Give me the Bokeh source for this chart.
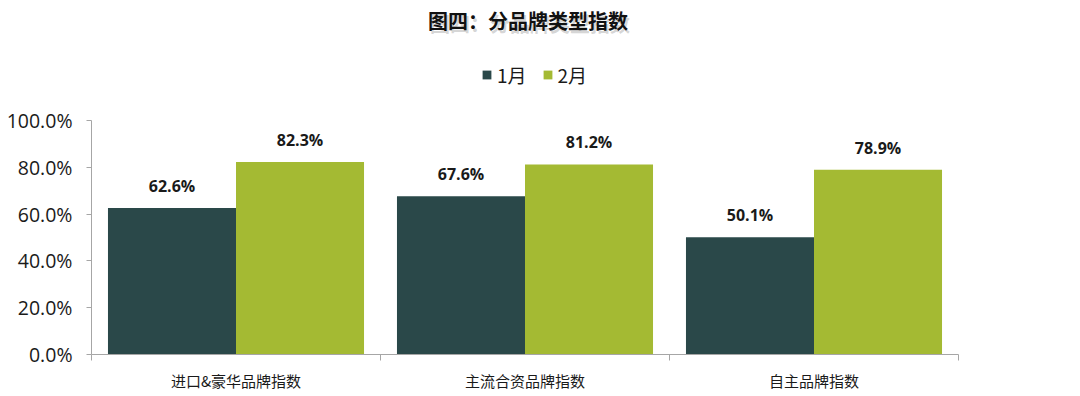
import numpy as np
from bokeh.plotting import figure
from bokeh.models import (Range1d, NumeralTickFormatter, FixedTicker, Legend, LegendItem,
                          ColumnDataSource, Label)
from bokeh.embed import file_html
from bokeh.resources import INLINE

title_text = "图四：分品牌类型指数"
categories = ["进口&豪华品牌指数", "主流合资品牌指数", "自主品牌指数"]
series_names = ["1月", "2月"]
jan = [0.626, 0.676, 0.501]
feb = [0.823, 0.812, 0.789]
y_ticks = [0.0, 0.2, 0.4, 0.6, 0.8, 1.0]

DARK = "#2A4849"
GREEN = "#A4BA33"
AXIS = "#A6A6A6"
CJK = "Noto Sans CJK SC"

n = len(categories)
centers = np.arange(n) + 0.5
w = 0.443
PX = 234.0            # pixels per 100 %
Y_TOP = 1 + 120 / PX  # frame extends up to the canvas top (title + legend live inside)

src = ColumnDataSource(dict(cat=categories, jan=jan, feb=feb,
                            x1=centers - w / 2, x2=centers + w / 2,
                            jan_lbl=[f"{v*100:.1f}%" for v in jan],
                            feb_lbl=[f"{v*100:.1f}%" for v in feb]))

p = figure(x_range=Range1d(0, n), y_range=Range1d(0, Y_TOP),
           width=1080, height=396,
           min_border_left=91, min_border_right=122, min_border_top=0, min_border_bottom=42,
           output_backend="svg", toolbar_location=None)
p.outline_line_color = None
p.grid.visible = False
p.background_fill_color = "white"
p.border_fill_color = "white"

r1 = p.vbar(x="x1", top="jan", width=w, source=src, fill_color=DARK, line_color=None)
r2 = p.vbar(x="x2", top="feb", width=w, source=src, fill_color=GREEN, line_color=None)

for col, lbl, xc in (("jan", "jan_lbl", "x1"), ("feb", "feb_lbl", "x2")):
    p.text(x=xc, y=col, text=lbl, source=src,
           text_align="center", text_baseline="bottom", y_offset=-11,
           text_font={"value": "Open Sans"}, text_font_size="16px", text_font_style="bold",
           text_color="#1a1a1a")

# y axis
ya = p.yaxis[0]
ya.ticker = FixedTicker(ticks=y_ticks)
ya.bounds = (0, 1)
ya.formatter = NumeralTickFormatter(format="0.0%")
ya.axis_line_color = AXIS
ya.major_tick_line_color = AXIS
ya.major_tick_out = 5
ya.major_tick_in = 0
ya.minor_tick_line_color = None
ya.major_label_standoff = 14
ya.major_label_text_font = "Open Sans"
ya.major_label_text_font_size = "19.5px"
ya.major_label_text_color = "#1a1a1a"

# x axis: labels at category centres, ticks at boundaries
xa = p.xaxis[0]
xa.ticker = FixedTicker(ticks=list(centers), minor_ticks=list(range(n + 1)))
xa.major_label_overrides = {float(c): name for c, name in zip(centers, categories)}
xa.axis_line_color = AXIS
xa.major_tick_line_color = None
xa.minor_tick_line_color = AXIS
xa.minor_tick_out = 6
xa.minor_tick_in = 0
xa.major_label_standoff = 9
xa.major_label_text_font = CJK
xa.major_label_text_font_size = "15px"
xa.major_label_text_color = "#1a1a1a"

# title with soft shadow
for dx, dy, color, alpha in ((2, -3, "#888888", 0.35), (0, 0, "#111111", 1.0)):
    p.add_layout(Label(x=n / 2, y=1 + 100 / PX, text=title_text, text_align="center",
                       text_baseline="middle", x_offset=dx + 3, y_offset=dy,
                       text_font=CJK, text_font_size="20px", text_font_style="bold",
                       text_color=color, text_alpha=alpha))

legend = Legend(items=[LegendItem(label=series_names[0], renderers=[r1]),
                       LegendItem(label=series_names[1], renderers=[r2])],
                orientation="horizontal", location=(390, 266),
                glyph_width=11, glyph_height=11, label_standoff=5, spacing=15,
                label_text_font=CJK, label_text_font_size="19px", label_text_color="#1a1a1a",
                border_line_color=None, background_fill_alpha=0, padding=0, margin=0)
p.add_layout(legend, "center")

open("out.html", "w").write(file_html(p, INLINE))
